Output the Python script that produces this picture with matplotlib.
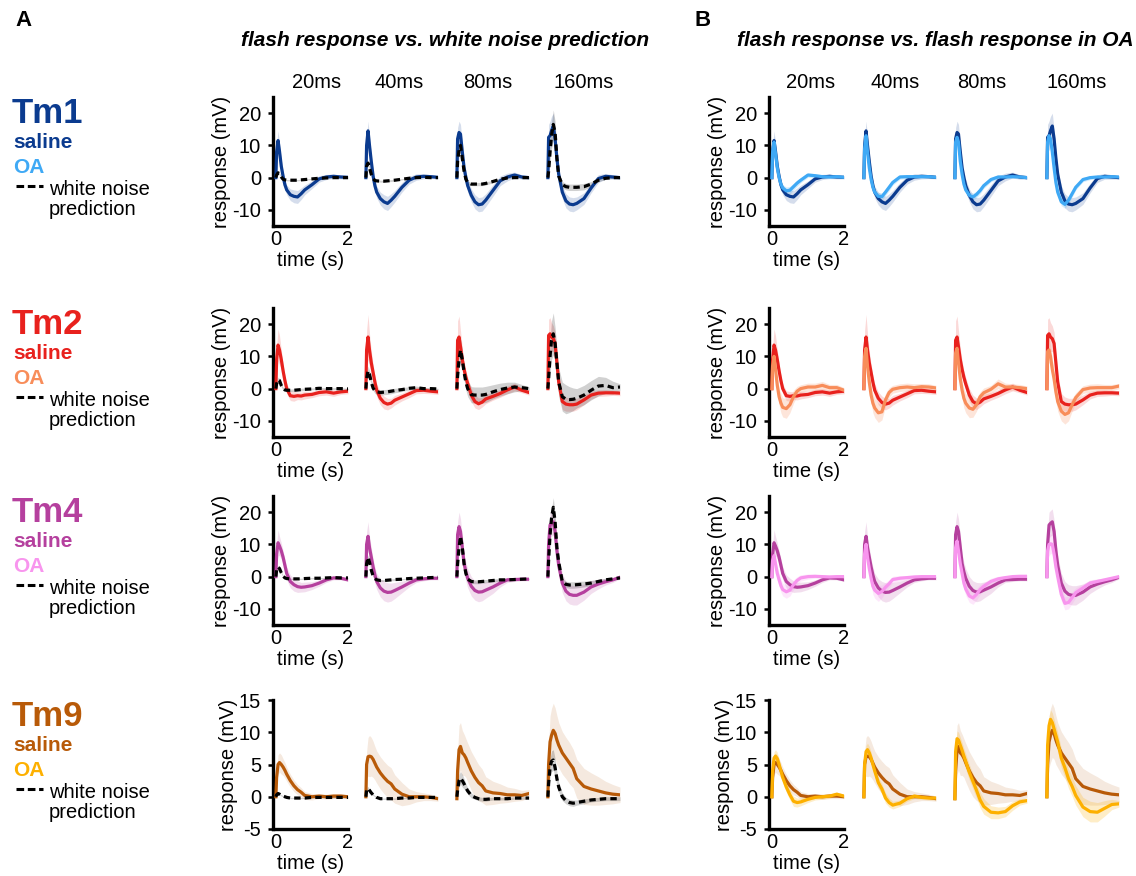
import matplotlib
matplotlib.use("Agg")
import matplotlib.pyplot as plt
from matplotlib.lines import Line2D
import numpy as np

plt.rcParams['font.family'] = ['Liberation Sans', 'DejaVu Sans']
plt.rcParams['axes.unicode_minus'] = False

# ---------------------------------------------------------------- data
time_s = [0, 0.02, 0.06, 0.1, 0.15, 0.2, 0.25, 0.3, 0.4, 0.5, 0.6, 0.7, 0.8,
          1.0, 1.2, 1.4, 1.6, 1.8, 2.0]
durations = ["20ms", "40ms", "80ms", "160ms"]
cell_types = ["Tm1", "Tm2", "Tm4", "Tm9"]

# Tm1 (mV), one list per flash duration
tm1_saline = [
    [0, 8, 11.5, 8.2, 3.5, 0.4, -2.2, -3.8, -5.3, -5.8, -6.0, -5.0, -3.8, -2.2, -0.4, 0.2, 0.4, 0.2, 0.1],
    [0, 10, 14.5, 10, 5, 0.5, -2.5, -4.5, -6.5, -7.5, -8.0, -7.0, -5.8, -3.0, -0.8, 0.2, 0.4, 0.3, 0.1],
    [0, 12, 14, 13.5, 8, 3, 0, -2.5, -5.5, -7.5, -8.4, -8.2, -7.0, -4.0, -1.0, 0.2, 0.8, 0.2, 0],
    [0, 12.5, 13, 14.5, 16, 12, 6, 1, -4.5, -7.2, -8.2, -8.4, -8.0, -6.5, -3.2, -0.3, 0.4, 0.2, 0],
]
tm1_saline_sem = [
    [0.5, 2.5, 3, 2.5, 2, 1.5, 1.5, 1.5, 1.8, 2, 2, 1.8, 1.5, 1.2, 1.0, 0.8, 0.7, 0.6, 0.5],
    [0.5, 3, 3, 2.5, 2, 1.8, 1.8, 1.8, 2, 2.2, 2.2, 2, 1.8, 1.5, 1.2, 1.0, 0.8, 0.6, 0.5],
    [0.5, 3.5, 3.5, 3, 2.5, 2, 2, 2, 2, 2.2, 2.2, 2.2, 2, 1.8, 1.5, 1.2, 0.9, 0.7, 0.5],
    [0.5, 4, 4.5, 4.5, 4, 3, 2.5, 2, 2, 2.2, 2.2, 2.2, 2, 1.8, 1.5, 1.2, 0.9, 0.7, 0.5],
]
tm1_oa = [
    [0, 8, 11, 7.5, 3, 0, -2, -3.2, -4.1, -3.9, -2.8, -1.7, -0.8, 0.8, 0.6, 0.3, 0.2, 0.3, 0.1],
    [0, 9, 13, 8, 3, -0.5, -3, -4.5, -5.8, -5.9, -4.5, -3.0, -1.5, 0.2, 0.3, 0.3, 0.3, 0.3, 0.1],
    [0, 11, 12.5, 11, 5, 1, -2, -3.8, -5.5, -6.0, -5.2, -4.0, -2.5, -0.6, 0.2, 0.2, 0.3, 0.2, 0],
    [0, 11, 13, 12, 8, 3, -1.5, -4.5, -7.5, -8.3, -7.0, -5.0, -3.0, -0.6, 0.0, 0.2, 0.2, 0.3, 0.2],
]
tm1_oa_sem = [
    [0.3, 1.5, 2, 1.5, 1.2, 1, 1, 1, 1.2, 1.2, 1, 1, 0.8, 0.7, 0.6, 0.5, 0.5, 0.5, 0.4],
    [0.3, 1.5, 2, 1.5, 1.2, 1, 1, 1, 1.2, 1.2, 1, 1, 0.8, 0.7, 0.6, 0.5, 0.5, 0.5, 0.4],
    [0.3, 1.5, 2, 1.5, 1.2, 1, 1, 1, 1.2, 1.2, 1, 1, 0.8, 0.7, 0.6, 0.5, 0.5, 0.5, 0.4],
    [0.3, 2, 2.5, 2, 1.5, 1.2, 1, 1, 1.2, 1.2, 1, 1, 0.8, 0.7, 0.6, 0.5, 0.5, 0.5, 0.4],
]
tm1_wn = [
    [0, 0.8, 1.5, 1.2, 0.2, -0.5, -0.7, -0.8, -0.8, -0.8, -0.8, -0.7, -0.6, -0.4, -0.2, -0.1, 0, 0, 0],
    [0, 3.5, 4.5, 3.0, 1.0, -0.3, -0.9, -1.0, -1.1, -1.1, -1.0, -0.9, -0.8, -0.5, -0.2, 0, 0.1, 0, 0],
    [0, 5, 8.5, 10, 6, 2, -0.5, -1.5, -2.0, -2.0, -2.0, -2.0, -1.8, -1.2, -0.5, -0.1, 0, 0, 0],
    [0, 2, 8, 13, 16.5, 14, 6, 0.5, -2.2, -2.8, -3.0, -3.0, -3.0, -2.8, -2.0, -0.8, -0.2, 0, 0],
]
tm1_wn_sem = [
    [0.1, 0.3, 0.4, 0.3, 0.3, 0.2, 0.2, 0.2, 0.2, 0.2, 0.2, 0.2, 0.2, 0.2, 0.1, 0.1, 0.1, 0.1, 0.1],
    [0.1, 0.5, 0.6, 0.5, 0.3, 0.3, 0.3, 0.3, 0.3, 0.3, 0.3, 0.3, 0.2, 0.2, 0.1, 0.1, 0.1, 0.1, 0.1],
    [0.1, 1.5, 2, 2, 1.5, 0.8, 0.6, 0.5, 0.5, 0.5, 0.5, 0.5, 0.5, 0.4, 0.3, 0.2, 0.1, 0.1, 0.1],
    [0.1, 2, 3, 4, 4.5, 3.5, 2, 1.2, 1, 1, 1, 1, 1, 1, 0.8, 0.5, 0.3, 0.2, 0.1],
]

# Tm2
tm2_saline = [
    [0, 9, 13.5, 12, 9, 5.5, 2.5, 0, -2.2, -2.4, -2.2, -2.3, -2.0, -1.8, -1.2, -1.0, -1.4, -1.0, -0.8],
    [0, 12, 16, 12, 8, 5, 2, -0.5, -3.0, -4.3, -4.8, -4.5, -3.6, -2.6, -1.6, -0.6, -0.5, -0.8, -1.0],
    [0, 15, 16, 13, 9, 6, 3.5, 1.5, -2, -4, -4.7, -4.2, -3.2, -2.4, -1.5, -0.4, 0.5, -0.5, -1.2],
    [0, 16.5, 17, 16, 15.5, 14, 8, 2, -4, -4.8, -5.0, -5.0, -4.8, -3.5, -2.0, -1.4, -1.3, -1.3, -1.4],
]
tm2_saline_sem = [
    [0.5, 4, 5, 4.5, 3, 2, 1.5, 1.5, 1.5, 1.5, 1.2, 1.2, 1.2, 1, 1, 1, 1, 0.8, 0.8],
    [0.5, 6, 7, 5, 3.5, 2.5, 2, 2, 2, 2, 1.8, 1.5, 1.5, 1.2, 1.2, 1, 1, 0.8, 0.8],
    [0.5, 6, 6.5, 5, 3.5, 2.5, 2, 2, 2, 2, 1.8, 1.5, 1.5, 1.2, 1.2, 1.2, 1.2, 0.8, 0.8],
    [0.5, 5, 5, 4.5, 4, 3.5, 3, 2.5, 2.5, 2.2, 2, 2, 1.8, 1.5, 1.2, 1, 1, 0.8, 0.8],
]
tm2_oa = [
    [0, 7, 10, 6, 1, -2.5, -4.5, -5.8, -6.2, -5.0, -2.5, -0.8, 0.0, 0.5, 0.5, 1.0, 0.3, 0.3, -0.5],
    [0, 10, 12.5, 7, 2, -2, -4.5, -6, -7.5, -7.2, -3.5, -1.2, -0.2, 0.3, 0.5, 0.3, 0.6, 0.5, 0.2],
    [0, 11, 12.5, 8, 3, -0.5, -3, -4.5, -6.0, -6.4, -5.0, -2.5, -1.3, -0.2, 1.5, 0.5, 0.5, 0.3, 0.0],
    [0, 11.5, 12, 10, 6, 3, -1, -4, -7, -8, -7.5, -5, -2.8, -0.3, 0.2, 0.3, 0.3, 0.3, 0.8],
]
tm2_oa_sem = [
    [0.5, 3, 3.5, 3, 2.5, 2.5, 3, 3, 3, 2.5, 2, 1.5, 1.2, 1.2, 1.2, 1.2, 1, 1, 0.8],
    [0.5, 3.5, 4, 3, 2.5, 2.5, 3, 3, 3, 2.5, 2, 1.5, 1.2, 1.2, 1.2, 1.2, 1, 1, 0.8],
    [0.5, 3.5, 4, 3, 2.5, 2.5, 3, 3, 3, 2.5, 2, 1.5, 1.5, 1.2, 1.5, 1.2, 1, 1, 0.8],
    [0.5, 3.5, 4, 3.5, 3, 3, 3, 3, 3, 3, 2.5, 2, 1.5, 1.2, 1.2, 1.2, 1, 1, 0.8],
]
tm2_wn = [
    [0, 1.5, 2.8, 2.5, 1.0, 0.0, -0.4, -0.5, -0.5, -0.5, -0.4, -0.3, -0.2, -0.1, 0.1, 0.0, 0.0, 0.0, -0.1],
    [0, 3, 5.5, 4.5, 2, 0.2, -0.7, -1.0, -1.2, -1.1, -1.0, -0.8, -0.6, -0.3, 0.1, 0.3, 0.0, 0.0, -0.1],
    [0, 4, 9, 12, 9, 5, 2, 0, -1.9, -2.0, -2.0, -2.0, -1.8, -1.0, -0.3, 0.2, 0.5, 0.3, 0.0],
    [0, 3, 10, 15, 17, 14, 8, 2, -2.5, -3.3, -3.4, -3.3, -3.0, -2.0, -0.5, 0.8, 1.0, 0.3, 0.5],
]
tm2_wn_sem = [
    [0.1, 0.6, 0.8, 0.6, 0.5, 0.4, 0.4, 0.4, 0.4, 0.4, 0.4, 0.4, 0.4, 0.3, 0.3, 0.3, 0.3, 0.3, 0.2],
    [0.1, 1, 1.5, 1.2, 1, 0.8, 0.8, 0.8, 0.8, 0.8, 0.8, 0.8, 0.7, 0.6, 0.5, 0.5, 0.4, 0.3, 0.2],
    [0.1, 2, 3, 3.5, 3, 2.5, 2.5, 2.5, 2.5, 2.5, 2.5, 2.5, 2.5, 2.2, 2, 1.8, 1.5, 1, 0.5],
    [0.1, 3, 5, 6, 6.5, 5, 4.5, 4.5, 4.5, 4.5, 4, 3.5, 3, 3, 3, 3, 2.5, 2, 1],
]

# Tm4
tm4_saline = [
    [0, 7, 10.5, 9.5, 8, 6, 3.5, 1, -1.5, -2.5, -3.1, -3.3, -3.2, -2.8, -2.0, -1.0, -0.4, -0.5, -1.0],
    [0, 10, 12.5, 9, 6, 3, 0.5, -1.5, -3.5, -4.5, -4.9, -4.8, -4.3, -3.2, -2.0, -1.0, -0.7, -0.5, -0.5],
    [0, 13, 15.5, 14, 9, 4, 1.5, -0.5, -3.0, -4.3, -4.8, -4.7, -4.2, -3.2, -2.0, -1.0, -0.9, -0.8, -0.8],
    [0, 10, 16, 16.5, 17, 14, 8, 3.5, -2.0, -4.5, -5.5, -5.8, -5.8, -4.8, -3.2, -2.3, -1.6, -1.0, -0.2],
]
tm4_saline_sem = [
    [0.5, 3, 4, 3, 2.5, 2, 2, 2, 2, 2, 1.8, 1.5, 1.5, 1.2, 1, 0.8, 0.6, 0.5, 0.5],
    [0.5, 4, 4.5, 3.5, 3, 2.5, 2.5, 2.5, 2.8, 3, 3, 2.8, 2.5, 1.8, 1.2, 0.8, 0.6, 0.5, 0.5],
    [0.5, 4, 4.5, 4, 3.5, 3, 3, 3, 3, 3, 3, 2.8, 2.5, 2, 1.2, 0.8, 0.6, 0.5, 0.5],
    [0.5, 4, 4, 4, 4, 3.5, 3, 3, 3, 3, 3, 3, 3, 2.5, 2, 1.5, 1, 0.8, 0.5],
]
tm4_oa = [
    [0, 5, 6.5, 4, 1, -1, -2.8, -4, -4.7, -4.2, -2.5, -1.2, -0.4, 0, 0.1, 0, -0.1, 0, 0],
    [0, 7, 10, 6, 2.5, -0.5, -3, -4.2, -5.2, -4.6, -3.3, -2.2, -0.9, -0.5, -0.3, -0.1, 0, 0, 0],
    [0, 9, 11, 8, 4, 1, -2, -3.8, -6.0, -6.6, -5.5, -4.0, -3.0, -1.5, -0.7, -0.3, 0.0, 0.1, 0.1],
    [0, 8, 10, 10.2, 10, 7, 3, 0, -5.5, -8.3, -8.0, -6.5, -5.0, -3.5, -2.0, -1.5, -1.0, -0.5, 0],
]
tm4_oa_sem = [
    [0.5, 2, 2.5, 2, 2, 2, 2, 2, 2, 1.8, 1.5, 1.2, 1, 0.8, 0.6, 0.5, 0.5, 0.5, 0.5],
    [0.5, 2.5, 3, 2.5, 2, 2, 2.5, 2.5, 2.5, 2, 1.5, 1.2, 1, 0.8, 0.6, 0.5, 0.5, 0.5, 0.5],
    [0.5, 2.5, 3, 2.5, 2, 2, 2, 2, 2, 2, 1.8, 1.5, 1.2, 1, 0.8, 0.6, 0.5, 0.5, 0.5],
    [0.5, 3, 3.5, 3, 3, 2.5, 2, 2, 2, 2, 2, 1.8, 1.5, 1.2, 1, 0.8, 0.6, 0.5, 0.5],
]
tm4_wn = [
    [0, 2, 3, 2.5, 1.2, 0.2, -0.4, -0.6, -0.7, -0.7, -0.7, -0.7, -0.6, -0.5, -0.5, -0.4, -0.3, -0.4, -0.4],
    [0, 4, 6, 4.5, 2, 0.2, -0.6, -1.0, -1.2, -1.2, -1.1, -1.0, -0.9, -0.8, -0.6, -0.5, -0.4, -0.3, -0.2],
    [0, 4, 9, 12.5, 9, 4, 1, -0.8, -1.5, -1.6, -1.6, -1.5, -1.4, -1.2, -1.0, -1.0, -0.9, -0.8, -0.7],
    [0, 5, 13, 18, 21.5, 17, 9, 4.5, -1.5, -2.4, -2.6, -2.6, -2.5, -2.3, -2.0, -1.5, -1.0, -0.7, -0.4],
]
tm4_wn_sem = [
    [0.1, 0.4, 0.5, 0.4, 0.3, 0.2, 0.2, 0.2, 0.2, 0.2, 0.2, 0.2, 0.2, 0.2, 0.2, 0.1, 0.1, 0.1, 0.1],
    [0.1, 0.6, 0.8, 0.6, 0.4, 0.3, 0.3, 0.3, 0.3, 0.3, 0.3, 0.3, 0.3, 0.2, 0.2, 0.2, 0.1, 0.1, 0.1],
    [0.1, 1, 1.5, 1.5, 1.2, 0.8, 0.6, 0.6, 0.6, 0.6, 0.6, 0.6, 0.5, 0.5, 0.4, 0.3, 0.3, 0.2, 0.2],
    [0.1, 1.5, 2.5, 3, 3, 2.5, 1.8, 1.2, 1, 1, 1, 1, 1, 0.9, 0.8, 0.6, 0.5, 0.4, 0.3],
]

# Tm9
tm9_saline = [
    [0, 3, 5, 5.3, 5.0, 4.6, 4.1, 3.5, 2.5, 1.7, 1.1, 0.7, 0.2, 0.0, 0.1, 0.0, 0.1, 0.1, 0.0],
    [0, 5, 6.2, 6.3, 6.2, 5.8, 5.2, 4.6, 3.7, 3.0, 2.4, 2.0, 1.2, 0.4, 0.0, 0.0, 0.0, -0.1, -0.3],
    [-0.3, 4, 7.3, 7.8, 6.8, 6.5, 6.0, 5.3, 4.0, 3.0, 2.2, 1.7, 0.9, 0.6, 0.5, 0.3, 0.3, 0.2, 0.5],
    [0, 5, 8.5, 9.5, 10.3, 9.8, 8.8, 8.0, 6.8, 6.0, 5.2, 4.4, 2.8, 1.6, 1.2, 0.9, 0.6, 0.4, 0.3],
]
tm9_saline_sem = [
    [0.2, 1, 1.5, 1.5, 1.5, 1.3, 1.2, 1.1, 1, 0.9, 0.8, 0.7, 0.6, 0.5, 0.4, 0.4, 0.4, 0.4, 0.3],
    [0.2, 2, 3, 3.2, 3, 2.8, 2.6, 2.5, 2.5, 2.5, 2.5, 2.5, 2.2, 1.8, 1.2, 0.8, 0.6, 0.5, 0.4],
    [0.2, 3, 3.8, 3.7, 3.5, 3.2, 3, 3, 3, 3, 2.8, 2.6, 2.2, 1.8, 1.5, 1.2, 1, 0.8, 0.6],
    [0.2, 3, 4, 4.2, 4.2, 4, 3.8, 3.5, 3.3, 3.2, 3.2, 3, 3, 2.8, 2.5, 2.2, 1.8, 1.5, 1.2],
]
tm9_oa = [
    [0, 4, 6.0, 6.3, 5.9, 5.0, 4.0, 3.0, 1.5, 0.3, -0.7, -0.9, -0.8, -0.4, -0.1, 0.0, 0.1, 0.4, 0.1],
    [0, 5, 7.0, 7.3, 6.8, 6.0, 5.0, 4.0, 2.2, 1.2, -0.2, -0.9, -1.3, -1.0, -0.3, 0.1, -0.1, -0.2, -0.2],
    [-0.3, 7, 9.0, 8.8, 8.0, 7.2, 6.3, 5.5, 3.8, 2.4, 1.0, -0.5, -1.5, -2.4, -2.5, -2.3, -1.4, -0.8, -0.6],
    [0, 8, 11, 12, 11.5, 10.5, 9.5, 8.5, 6.0, 4.5, 2.8, 1.6, 0.2, -1.6, -2.3, -2.4, -1.8, -1.2, -1.1],
]
tm9_oa_sem = [
    [0.2, 0.8, 1, 1, 1, 0.9, 0.8, 0.8, 0.8, 0.8, 0.8, 0.7, 0.6, 0.5, 0.4, 0.4, 0.3, 0.3, 0.3],
    [0.2, 0.8, 1, 1, 1, 0.9, 0.8, 0.8, 0.8, 0.8, 0.8, 0.7, 0.6, 0.5, 0.4, 0.4, 0.3, 0.3, 0.3],
    [0.2, 1, 1.2, 1.2, 1.2, 1.2, 1.2, 1.2, 1.2, 1.2, 1.2, 1.2, 1.2, 1, 0.9, 0.8, 0.7, 0.5, 0.4],
    [0.2, 1.2, 1.5, 1.5, 1.5, 1.5, 1.5, 1.5, 1.5, 1.5, 1.5, 1.5, 1.5, 1.5, 1.6, 1.5, 1.2, 0.8, 0.5],
]
tm9_wn = [
    [0, 0.3, 0.5, 0.4, 0.2, 0.1, 0.0, -0.1, -0.2, -0.2, -0.2, -0.2, -0.2, -0.1, -0.1, -0.1, -0.1, -0.1, -0.1],
    [0, 1.0, 1.3, 1.0, 0.6, 0.3, 0.1, -0.1, -0.3, -0.3, -0.3, -0.3, -0.3, -0.2, -0.2, -0.1, -0.1, -0.1, -0.1],
    [0, 1, 2.5, 2.9, 2.5, 2.0, 1.4, 0.9, 0.2, -0.1, -0.3, -0.4, -0.4, -0.3, -0.3, -0.3, -0.2, -0.2, -0.2],
    [0, 2, 4.5, 5.5, 5.7, 4.5, 2.8, 1.5, 0.0, -0.6, -0.9, -1.0, -0.9, -0.7, -0.5, -0.4, -0.3, -0.3, -0.3],
]
tm9_wn_sem = [
    [0.05, 0.1, 0.1, 0.1, 0.1, 0.1, 0.1, 0.1, 0.1, 0.1, 0.1, 0.1, 0.1, 0.1, 0.1, 0.1, 0.1, 0.1, 0.1],
    [0.05, 0.2, 0.3, 0.2, 0.2, 0.1, 0.1, 0.1, 0.1, 0.1, 0.1, 0.1, 0.1, 0.1, 0.1, 0.1, 0.1, 0.1, 0.1],
    [0.05, 0.6, 1, 1, 1, 0.8, 0.6, 0.5, 0.4, 0.3, 0.3, 0.3, 0.3, 0.2, 0.2, 0.2, 0.2, 0.2, 0.2],
    [0.05, 1, 1.5, 1.6, 1.6, 1.4, 1, 0.8, 0.6, 0.5, 0.5, 0.5, 0.4, 0.4, 0.3, 0.3, 0.3, 0.3, 0.3],
]

saline_colors = ["#0b3b8f", "#e8211d", "#b5409e", "#b85a08"]
oa_colors = ["#3fa9f5", "#f88d5a", "#f895ee", "#fdb000"]
band_alpha = [0.17, 0.17, 0.17, 0.13]
y_limits = [(-15, 25), (-15, 25), (-15, 25), (-5, 15)]
y_ticks = [[-10, 0, 10, 20], [-10, 0, 10, 20], [-10, 0, 10, 20], [-5, 0, 5, 10, 15]]

saline_means = [tm1_saline, tm2_saline, tm4_saline, tm9_saline]
saline_sems = [tm1_saline_sem, tm2_saline_sem, tm4_saline_sem, tm9_saline_sem]
oa_means = [tm1_oa, tm2_oa, tm4_oa, tm9_oa]
oa_sems = [tm1_oa_sem, tm2_oa_sem, tm4_oa_sem, tm9_oa_sem]
wn_means = [tm1_wn, tm2_wn, tm4_wn, tm9_wn]
wn_sems = [tm1_wn_sem, tm2_wn_sem, tm4_wn_sem, tm9_wn_sem]

# ---------------------------------------------------------------- layout (pixels)
W, H = 1136, 876
fig = plt.figure(figsize=(W / 100, H / 100), dpi=100)


def fx(px):
    return px / W


def fy(py):
    return 1 - py / H


row_tops = [97, 308, 496, 700]
row_height = 129
ax_width = 75
lefts_a = [273, 363, 454, 545]
lefts_b = [769, 861, 952, 1044]
title_x_a = [317, 399, 488, 584]
title_x_b = [811, 895, 982, 1077]

FS = 14.5
LW = 2.3
WN_STYLE = (0, (2.0, 1.3))
t = np.array(time_s)


def band(ax, mean, sem, color, alpha, z):
    m = np.array(mean)
    s = np.array(sem)
    ax.fill_between(t, m - s, m + s, color=color, alpha=alpha, lw=0, zorder=z)


def style_axes(ax, row, first):
    ax.set_xlim(-0.08, 2.0)
    ax.set_ylim(*y_limits[row])
    if not first:
        ax.axis("off")
        return
    for side in ("top", "right"):
        ax.spines[side].set_visible(False)
    for side in ("left", "bottom"):
        ax.spines[side].set_linewidth(2.4)
    ax.set_yticks(y_ticks[row])
    ax.set_yticklabels([str(v) for v in y_ticks[row]], fontsize=FS)
    ax.set_xticks([0, 2])
    ax.set_xticklabels(["0", "2"], fontsize=FS)
    ax.tick_params(axis="y", length=3.5, width=1.8, pad=5)
    ax.tick_params(axis="x", length=0, pad=3)
    ax.set_xlabel("time (s)", fontsize=FS, labelpad=1)
    ax.set_ylabel("response (mV)", fontsize=FS, labelpad=1)
    ax.patch.set_visible(False)


for r in range(4):
    sc = saline_colors[r]
    oc = oa_colors[r]
    a = band_alpha[r]
    for k in range(4):
        # panel A: flash response vs. white-noise prediction
        ax = fig.add_axes([fx(lefts_a[k]), fy(row_tops[r] + row_height),
                           fx(ax_width), row_height / H])
        band(ax, saline_means[r][k], saline_sems[r][k], sc, a, 1)
        band(ax, wn_means[r][k], wn_sems[r][k], "black", 0.18, 2)
        ax.plot(t, saline_means[r][k], color=sc, lw=LW, zorder=3)
        ax.plot(t, wn_means[r][k], color="black", lw=LW, ls=WN_STYLE, zorder=4)
        style_axes(ax, r, k == 0)

        # panel B: flash response in saline vs. OA
        bx = fig.add_axes([fx(lefts_b[k]), fy(row_tops[r] + row_height),
                           fx(ax_width), row_height / H])
        band(bx, saline_means[r][k], saline_sems[r][k], sc, a, 1)
        band(bx, oa_means[r][k], oa_sems[r][k], oc, 0.22, 2)
        bx.plot(t, saline_means[r][k], color=sc, lw=LW, zorder=3)
        bx.plot(t, oa_means[r][k], color=oc, lw=LW, zorder=4)
        style_axes(bx, r, k == 0)

    # legend text for each cell type
    top = row_tops[r]
    fig.text(fx(12), fy(top + 26), cell_types[r], color=sc, fontsize=25,
             fontweight="bold", va="baseline", ha="left")
    fig.text(fx(13), fy(top + 51), "saline", color=sc, fontsize=15,
             fontweight="bold", va="baseline", ha="left")
    fig.text(fx(13), fy(top + 76), "OA", color=oc, fontsize=15,
             fontweight="bold", va="baseline", ha="left")
    fig.text(fx(49), fy(top + 98), "white noise", color="black", fontsize=FS,
             va="baseline", ha="left")
    fig.text(fx(49), fy(top + 118), "prediction", color="black", fontsize=FS,
             va="baseline", ha="left")
    fig.add_artist(Line2D([fx(16), fx(43)], [fy(top + 89), fy(top + 89)],
                          transform=fig.transFigure, color="black", lw=2.2,
                          ls=(0, (2.5, 1.2))))

# column titles
for k, d in enumerate(durations):
    fig.text(fx(title_x_a[k]), fy(82), d, fontsize=FS, ha="center", va="center")
    fig.text(fx(title_x_b[k]), fy(82), d, fontsize=FS, ha="center", va="center")

# panel headers
fig.text(fx(15), fy(20), "A", fontsize=16, fontweight="bold", ha="left", va="center")
fig.text(fx(695), fy(20), "B", fontsize=16, fontweight="bold", ha="left", va="center")
fig.text(fx(445), fy(41), "flash response vs. white noise prediction", fontsize=15,
         fontweight="bold", fontstyle="italic", ha="center", va="center")
fig.text(fx(935), fy(41), "flash response vs. flash response in OA", fontsize=15,
         fontweight="bold", fontstyle="italic", ha="center", va="center")

fig.savefig("out.png", dpi=100)
